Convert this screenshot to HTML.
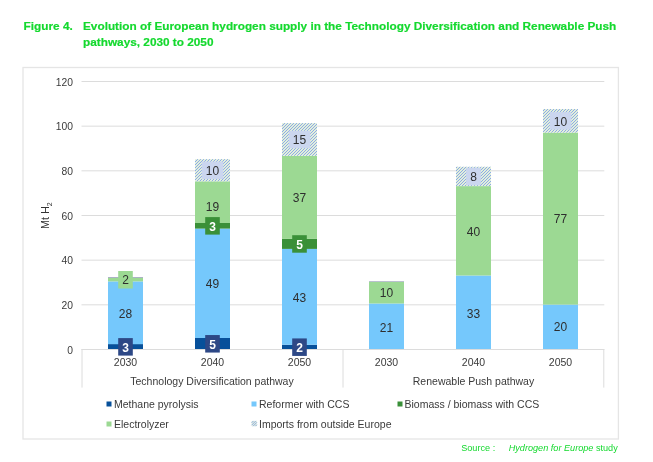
<!DOCTYPE html>
<html><head><meta charset="utf-8"><title>Figure 4</title>
<style>
html,body{margin:0;padding:0;background:#fff;}
body{width:653px;height:462px;overflow:hidden;position:relative;font-family:"Liberation Sans",Arial,sans-serif;}
svg{position:absolute;left:0;top:0;}
svg text{font-family:"Liberation Sans",Arial,sans-serif;}
.ttl{font-size:11.81px;font-weight:bold;fill:#14d92e;stroke:#14d92e;stroke-width:0.2px;}
.tick text{font-size:10.3px;fill:#3a3a3a;}
.dl text{font-size:12px;}
.cat text{font-size:10.5px;fill:#3a3a3a;}
.leg text{font-size:10.5px;fill:#3a3a3a;}
.src{font-size:9.15px;fill:#14d92e;}
</style></head><body>
<svg width="653" height="462" viewBox="0 0 653 462">
<rect width="653" height="462" fill="#fff"/>
<text class="ttl" x="23.6" y="30.3">Figure 4.</text>
<text class="ttl" x="83" y="30.3">Evolution of European hydrogen supply in the Technology Diversification and Renewable Push</text>
<text class="ttl" x="83" y="46.3">pathways, 2030 to 2050</text>
<rect x="23" y="67.5" width="595.4" height="371.5" fill="#fff" stroke="#e5e5e5" stroke-width="1.3"/>
<g><line x1="81.5" x2="604.3" y1="349.50" y2="349.50" stroke="#dcdcdc" stroke-width="1"/><line x1="81.5" x2="604.3" y1="304.83" y2="304.83" stroke="#dcdcdc" stroke-width="1"/><line x1="81.5" x2="604.3" y1="260.17" y2="260.17" stroke="#dcdcdc" stroke-width="1"/><line x1="81.5" x2="604.3" y1="215.50" y2="215.50" stroke="#dcdcdc" stroke-width="1"/><line x1="81.5" x2="604.3" y1="170.84" y2="170.84" stroke="#dcdcdc" stroke-width="1"/><line x1="81.5" x2="604.3" y1="126.17" y2="126.17" stroke="#dcdcdc" stroke-width="1"/><line x1="81.5" x2="604.3" y1="81.50" y2="81.50" stroke="#dcdcdc" stroke-width="1"/></g>
<g class="tick"><text x="73" y="353.80" text-anchor="end">0</text><text x="73" y="309.13" text-anchor="end">20</text><text x="73" y="264.47" text-anchor="end">40</text><text x="73" y="219.80" text-anchor="end">60</text><text x="73" y="175.14" text-anchor="end">80</text><text x="73" y="130.47" text-anchor="end">100</text><text x="73" y="85.80" text-anchor="end">120</text></g>
<text transform="translate(49.3,215.6) rotate(-90)" text-anchor="middle" font-size="10.8" fill="#333">Mt H<tspan font-size="7" dy="2.2">2</tspan></text>
<g><rect x="108.0" y="344.10" width="35" height="5.40" fill="#07509a"/><rect x="108.0" y="281.40" width="35" height="62.70" fill="#75c8fc"/><rect x="108.0" y="278.00" width="35" height="3.40" fill="#9cd993"/><rect x="108.0" y="277.00" width="35" height="1.00" fill="#aab3c4"/><rect x="195.0" y="338.00" width="35" height="11.50" fill="#07509a"/><rect x="195.0" y="228.60" width="35" height="109.40" fill="#75c8fc"/><rect x="195.0" y="223.00" width="35" height="5.60" fill="#3a9038"/><rect x="195.0" y="181.30" width="35" height="41.70" fill="#9cd993"/><rect x="195.00" y="159.20" width="35" height="22.10" fill="#e2f0dc"/><path d="M195.00,162.00L197.80,159.20M195.00,165.00L200.80,159.20M195.00,168.00L203.80,159.20M195.00,171.00L206.80,159.20M195.00,174.00L209.80,159.20M195.00,177.00L212.80,159.20M195.00,180.00L215.80,159.20M196.70,181.30L218.80,159.20M199.70,181.30L221.80,159.20M202.70,181.30L224.80,159.20M205.70,181.30L227.80,159.20M208.70,181.30L230.00,160.00M211.70,181.30L230.00,163.00M214.70,181.30L230.00,166.00M217.70,181.30L230.00,169.00M220.70,181.30L230.00,172.00M223.70,181.30L230.00,175.00M226.70,181.30L230.00,178.00M229.70,181.30L230.00,181.00" stroke="#8eaae6" stroke-width="1.0" fill="none"/><rect x="282.0" y="344.75" width="35" height="4.75" fill="#07509a"/><rect x="282.0" y="248.90" width="35" height="95.85" fill="#75c8fc"/><rect x="282.0" y="238.90" width="35" height="10.00" fill="#3a9038"/><rect x="282.0" y="155.80" width="35" height="83.10" fill="#9cd993"/><rect x="282.00" y="123.10" width="35" height="32.70" fill="#e2f0dc"/><path d="M282.00,126.00L284.90,123.10M282.00,129.00L287.90,123.10M282.00,132.00L290.90,123.10M282.00,135.00L293.90,123.10M282.00,138.00L296.90,123.10M282.00,141.00L299.90,123.10M282.00,144.00L302.90,123.10M282.00,147.00L305.90,123.10M282.00,150.00L308.90,123.10M282.00,153.00L311.90,123.10M282.20,155.80L314.90,123.10M285.20,155.80L317.00,124.00M288.20,155.80L317.00,127.00M291.20,155.80L317.00,130.00M294.20,155.80L317.00,133.00M297.20,155.80L317.00,136.00M300.20,155.80L317.00,139.00M303.20,155.80L317.00,142.00M306.20,155.80L317.00,145.00M309.20,155.80L317.00,148.00M312.20,155.80L317.00,151.00M315.20,155.80L317.00,154.00" stroke="#8eaae6" stroke-width="1.0" fill="none"/><rect x="369.0" y="303.50" width="35" height="46.00" fill="#75c8fc"/><rect x="369.0" y="281.90" width="35" height="21.60" fill="#9cd993"/><rect x="369.0" y="281.10" width="35" height="0.80" fill="#aab3c4"/><rect x="456.0" y="275.50" width="35" height="74.00" fill="#75c8fc"/><rect x="456.0" y="186.10" width="35" height="89.40" fill="#9cd993"/><rect x="456.00" y="166.80" width="35" height="19.30" fill="#e2f0dc"/><path d="M456.00,168.00L457.20,166.80M456.00,171.00L460.20,166.80M456.00,174.00L463.20,166.80M456.00,177.00L466.20,166.80M456.00,180.00L469.20,166.80M456.00,183.00L472.20,166.80M456.00,186.00L475.20,166.80M458.90,186.10L478.20,166.80M461.90,186.10L481.20,166.80M464.90,186.10L484.20,166.80M467.90,186.10L487.20,166.80M470.90,186.10L490.20,166.80M473.90,186.10L491.00,169.00M476.90,186.10L491.00,172.00M479.90,186.10L491.00,175.00M482.90,186.10L491.00,178.00M485.90,186.10L491.00,181.00M488.90,186.10L491.00,184.00" stroke="#8eaae6" stroke-width="1.0" fill="none"/><rect x="543.0" y="304.60" width="35" height="44.90" fill="#75c8fc"/><rect x="543.0" y="132.55" width="35" height="172.05" fill="#9cd993"/><rect x="543.00" y="109.07" width="35" height="23.48" fill="#e2f0dc"/><path d="M543.00,111.00L544.93,109.07M543.00,114.00L547.93,109.07M543.00,117.00L550.93,109.07M543.00,120.00L553.93,109.07M543.00,123.00L556.93,109.07M543.00,126.00L559.93,109.07M543.00,129.00L562.93,109.07M543.00,132.00L565.93,109.07M545.45,132.55L568.93,109.07M548.45,132.55L571.93,109.07M551.45,132.55L574.93,109.07M554.45,132.55L577.93,109.07M557.45,132.55L578.00,112.00M560.45,132.55L578.00,115.00M563.45,132.55L578.00,118.00M566.45,132.55L578.00,121.00M569.45,132.55L578.00,124.00M572.45,132.55L578.00,127.00M575.45,132.55L578.00,130.00" stroke="#8eaae6" stroke-width="1.0" fill="none"/></g>
<g stroke="#dcdcdc" stroke-width="1">
<line x1="81.5" x2="604.3" y1="349.5" y2="349.5"/>
<line x1="82" x2="82" y1="349.5" y2="387.6"/>
<line x1="343" x2="343" y1="349.5" y2="387.6"/>
<line x1="603.8" x2="603.8" y1="349.5" y2="387.6"/>
</g>
<g class="dl"><rect x="118.2" y="338.10" width="14.6" height="17.5" fill="#2d4886"/><text x="125.5" y="352.20" text-anchor="middle" fill="#fff" font-weight="bold">3</text><text x="125.5" y="318.15" text-anchor="middle" fill="#2e2e2e">28</text><rect x="118.2" y="271.00" width="14.6" height="17.5" fill="#9cd993"/><text x="125.5" y="284.10" text-anchor="middle" fill="#2e2e2e">2</text><rect x="205.2" y="335.05" width="14.6" height="17.5" fill="#2d4886"/><text x="212.5" y="349.15" text-anchor="middle" fill="#fff" font-weight="bold">5</text><text x="212.5" y="287.70" text-anchor="middle" fill="#2e2e2e">49</text><rect x="205.2" y="217.10" width="14.6" height="17.5" fill="#3a9038"/><text x="212.5" y="231.20" text-anchor="middle" fill="#fff" font-weight="bold">3</text><text x="212.5" y="210.95" text-anchor="middle" fill="#2e2e2e">19</text><rect x="201.8" y="161.55" width="21.5" height="17.5" fill="#cbd6ef"/><text x="212.5" y="174.65" text-anchor="middle" fill="#2e2e2e">10</text><rect x="292.2" y="338.43" width="14.6" height="17.5" fill="#2d4886"/><text x="299.5" y="351.52" text-anchor="middle" fill="#fff" font-weight="bold">2</text><text x="299.5" y="302.22" text-anchor="middle" fill="#2e2e2e">43</text><rect x="292.2" y="235.20" width="14.6" height="17.5" fill="#3a9038"/><text x="299.5" y="249.30" text-anchor="middle" fill="#fff" font-weight="bold">5</text><text x="299.5" y="201.75" text-anchor="middle" fill="#2e2e2e">37</text><rect x="288.8" y="130.75" width="21.5" height="17.5" fill="#cbd6ef"/><text x="299.5" y="143.85" text-anchor="middle" fill="#2e2e2e">15</text><text x="386.5" y="331.90" text-anchor="middle" fill="#2e2e2e">21</text><text x="386.5" y="297.10" text-anchor="middle" fill="#2e2e2e">10</text><text x="473.5" y="317.90" text-anchor="middle" fill="#2e2e2e">33</text><text x="473.5" y="236.20" text-anchor="middle" fill="#2e2e2e">40</text><rect x="466.2" y="167.75" width="14.6" height="17.5" fill="#cbd6ef"/><text x="473.5" y="180.85" text-anchor="middle" fill="#2e2e2e">8</text><text x="560.5" y="331.45" text-anchor="middle" fill="#2e2e2e">20</text><text x="560.5" y="222.98" text-anchor="middle" fill="#2e2e2e">77</text><rect x="549.8" y="112.11" width="21.5" height="17.5" fill="#cbd6ef"/><text x="560.5" y="126.21" text-anchor="middle" fill="#2e2e2e">10</text></g>
<g class="cat" text-anchor="middle">
<text x="125.5" y="365.5">2030</text><text x="212.5" y="365.5">2040</text><text x="299.5" y="365.5">2050</text>
<text x="386.5" y="365.5">2030</text><text x="473.5" y="365.5">2040</text><text x="560.5" y="365.5">2050</text>
<text x="212" y="384.5">Technology Diversification pathway</text>
<text x="473.5" y="384.5">Renewable Push pathway</text>
</g>
<g class="leg">
<rect x="106.5" y="401.5" width="5" height="5" fill="#07509a"/><text x="114" y="407.5">Methane pyrolysis</text>
<rect x="251.5" y="401.5" width="5" height="5" fill="#75c8fc"/><text x="259" y="407.5">Reformer with CCS</text>
<rect x="397.5" y="401.5" width="5" height="5" fill="#3a9038"/><text x="404.5" y="407.5">Biomass / biomass with CCS</text>
<rect x="106.5" y="421.5" width="5" height="5" fill="#9cd993"/><text x="114" y="427.7">Electrolyzer</text>
<rect x="251.60" y="420.90" width="5.3" height="5.30" fill="#e2f0dc"/><path d="M251.60,422.80L253.50,420.90M251.60,425.20L255.90,420.90M253.00,426.20L256.90,422.30M255.40,426.20L256.90,424.70" stroke="#8eaae6" stroke-width="1.0" fill="none"/><text x="259" y="427.7">Imports from outside Europe</text>
</g>
<text class="src" x="461.2" y="450.7">Source :</text>
<text class="src" x="508.7" y="450.7"><tspan font-style="italic">Hydrogen for Europe</tspan> study</text>
</svg>
</body></html>
